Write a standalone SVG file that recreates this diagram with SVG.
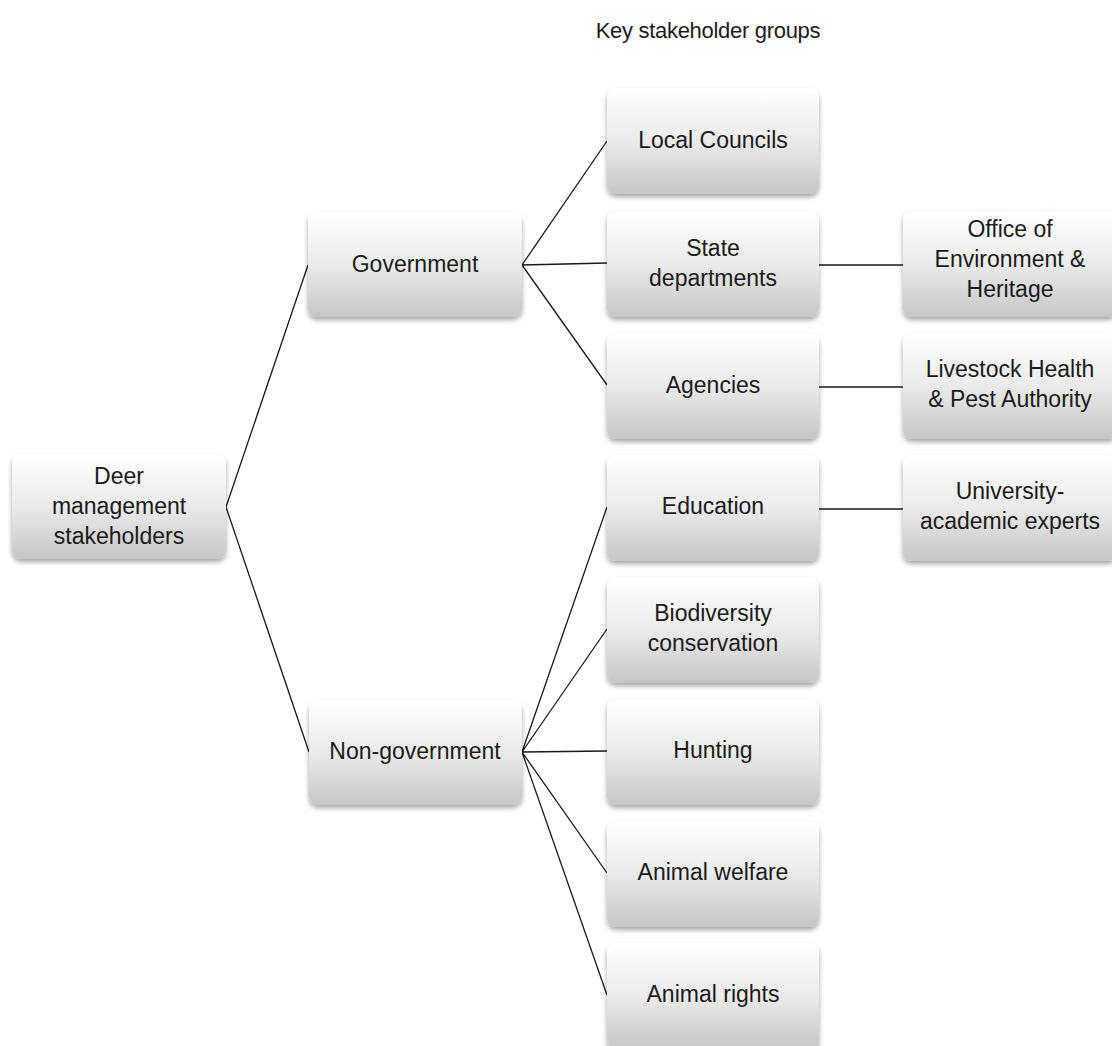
<svg xmlns="http://www.w3.org/2000/svg" width="1112" height="1046" viewBox="0 0 1112 1046">
<defs>
<linearGradient id="g" x1="0" y1="0" x2="0" y2="1">
<stop offset="0" stop-color="#ffffff"/>
<stop offset="0.5" stop-color="#ebebeb"/>
<stop offset="1" stop-color="#c6c6c6"/>
</linearGradient>
<filter id="sh" x="-10%" y="-10%" width="120%" height="130%">
<feDropShadow dx="0" dy="3" stdDeviation="2.5" flood-color="#000" flood-opacity="0.35"/>
</filter>
</defs>
<style>
.box{fill:url(#g);filter:url(#sh)}
text{font-family:"Liberation Sans",Arial,sans-serif;font-size:23px;fill:#1a1a1a;text-anchor:middle}
.c{stroke:#1a1a1a;stroke-width:1.3;fill:none}
</style>
<rect width="1112" height="1046" fill="#fff"/>
<text x="708" y="38" style="font-size:22px;letter-spacing:-0.3px">Key stakeholder groups</text>
<g id="connectors">
<path class="c" d="M226 507 L308 265 M226 507 L309 752"/>
<path class="c" d="M522 265 L607 141 M522 265 L607 263 M522 265 L607 385"/>
<path class="c" d="M522 752 L607 507 M522 752 L607 629 M522 752 L607 751 M522 752 L607 873 M522 752 L607 995"/>
<path class="c" d="M819 265 L903 265 M819 387 L903 387 M819 509 L903 509"/>
</g>
<g id="root"><rect class="box" x="12" y="454" width="214" height="105" rx="9"/>
<text x="119" y="484">Deer</text><text x="119" y="514">management</text><text x="119" y="544">stakeholders</text></g>
<g id="government"><rect class="box" x="308" y="212" width="214" height="105" rx="9"/>
<text x="415" y="272">Government</text></g>
<g id="nongovernment"><rect class="box" x="309" y="700" width="213" height="105" rx="9"/>
<text x="415" y="759">Non-government</text></g>
<g id="local"><rect class="box" x="607" y="88" width="212" height="106" rx="9"/>
<text x="713" y="148">Local Councils</text></g>
<g id="state"><rect class="box" x="607" y="211" width="212" height="106" rx="9"/>
<text x="713" y="256">State</text><text x="713" y="286">departments</text></g>
<g id="agencies"><rect class="box" x="607" y="333" width="212" height="106" rx="9"/>
<text x="713" y="393">Agencies</text></g>
<g id="education"><rect class="box" x="607" y="455" width="212" height="106" rx="9"/>
<text x="713" y="514">Education</text></g>
<g id="biodiversity"><rect class="box" x="607" y="577" width="212" height="106" rx="9"/>
<text x="713" y="621">Biodiversity</text><text x="713" y="651">conservation</text></g>
<g id="hunting"><rect class="box" x="607" y="699" width="212" height="106" rx="9"/>
<text x="713" y="758">Hunting</text></g>
<g id="welfare"><rect class="box" x="607" y="821" width="212" height="106" rx="9"/>
<text x="713" y="880">Animal welfare</text></g>
<g id="rights"><rect class="box" x="607" y="943" width="212" height="106" rx="9"/>
<text x="713" y="1002">Animal rights</text></g>
<g id="oeh"><rect class="box" x="903" y="211" width="214" height="106" rx="9"/>
<text x="1010" y="237">Office of</text><text x="1010" y="267">Environment &amp;</text><text x="1010" y="297">Heritage</text></g>
<g id="lhpa"><rect class="box" x="903" y="333" width="214" height="106" rx="9"/>
<text x="1010" y="377">Livestock Health</text><text x="1010" y="407">&amp; Pest Authority</text></g>
<g id="university"><rect class="box" x="903" y="455" width="214" height="106" rx="9"/>
<text x="1010" y="499">University-</text><text x="1010" y="529">academic experts</text></g>
</svg>
